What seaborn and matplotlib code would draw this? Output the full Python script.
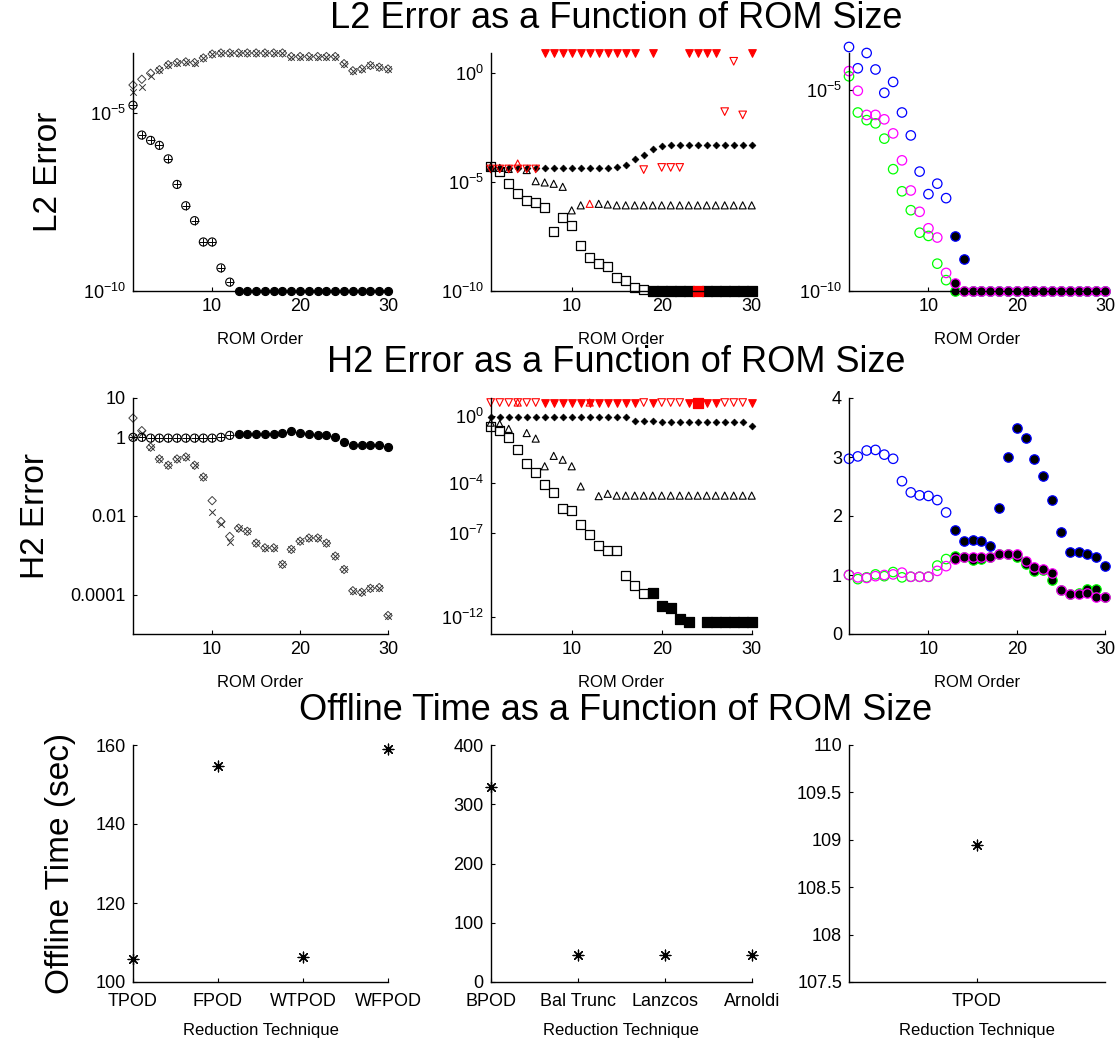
import numpy as np
import matplotlib.pyplot as plt
import seaborn as sns

sns.set_style("ticks")
plt.rcParams["font.family"] = ["Liberation Sans", "DejaVu Sans"]
plt.rcParams["mathtext.fontset"] = "custom"
plt.rcParams["mathtext.rm"] = "Liberation Sans"
plt.rcParams["mathtext.default"] = "regular"
plt.rcParams["text.color"] = "k"
plt.rcParams["axes.labelcolor"] = "k"

# ROM orders 1..30
orders = np.arange(1, 31)

# L2 error, POD column (log10 of error)
l2_tpod_log = [-4.77, -5.61, -5.76, -5.90, -6.28, -7.00, -7.60, -8.02, -8.62, -8.62,
               -9.35, -9.75] + [-10.0] * 18
l2_fpod_log = l2_tpod_log
l2_wfpod_log = [-4.20, -4.04, -3.87, -3.77, -3.63, -3.57, -3.55, -3.57, -3.44, -3.33,
                -3.30, -3.30, -3.30, -3.30, -3.30, -3.30, -3.30, -3.30,
                -3.40, -3.40, -3.40, -3.40, -3.40, -3.40,
                -3.60, -3.80, -3.75, -3.65, -3.70, -3.75]
l2_wtpod_log = [-4.40, -4.25, -3.95] + l2_wfpod_log[3:]
pod_unstable_from = 13

# L2 error, balanced / Krylov column
l2_bpod_log = [-4.30, -4.53, -5.07, -5.53, -5.84, -5.92, -6.15, -7.25, -6.64, -6.99,
               -7.91, -8.45, -8.76, -8.88, -9.37, -9.53, -9.83, -9.95] + [-10.0] * 12
l2_baltrunc_log = [-4.35] * 14 + [-4.30, -4.22, -3.96, -3.76, -3.50, -3.35] + [-3.30] * 10
l2_lanczos_log = [-4.30, -4.35, -4.40, -4.15, -4.45, -4.96, -5.02, -5.08, -5.22, -6.30,
                  -6.07, -6.00, -6.00, -6.03] + [-6.07] * 16
l2_arnoldi_log = ([-4.40] * 6 + [0.90] * 11 + [-4.43, 0.90] + [-4.33] * 3 + [0.90] * 4
                  + [-1.77, 0.54, -1.92, 0.90])
arnoldi_unstable = [7, 8, 9, 10, 11, 12, 13, 14, 15, 16, 17, 19, 23, 24, 25, 26, 30]
bpod_unstable_from = 19
bpod_flagged = [24]
lanczos_flagged = [4, 12]

# L2 error, third column (three cases)
l2_case_a_log = [-3.93, -4.46, -4.08, -4.49, -5.07, -4.80, -5.56, -6.13, -7.03, -7.59,
                 -7.33, -7.69, -8.62, -9.21] + [-10.0] * 16
l2_case_b_log = [-4.66, -5.56, -5.75, -5.83, -6.21, -6.97, -7.52, -7.99, -8.55, -8.63,
                 -9.32, -9.73] + [-10.0] * 18
l2_case_c_log = [-4.53, -5.02, -5.62, -5.62, -5.73, -6.08, -6.75, -7.50, -8.03, -8.44,
                 -8.67, -9.55, -9.79] + [-10.0] * 17

# H2 error, POD column (log10)
h2_tpod_log = [0.0, 0.0] + [-0.02] * 8 + [0.0, 0.05] + [0.08] * 5 + [0.12, 0.15, 0.12, 0.08,
               0.06, 0.06, 0.02, -0.12, -0.20, -0.20, -0.20, -0.20, -0.24]
h2_fpod_log = h2_tpod_log
h2_wfpod_log = [0.49, 0.17, -0.25, -0.55, -0.71, -0.55, -0.50, -0.71, -1.01, -1.61,
                -2.14, -2.52, -2.31, -2.39, -2.69, -2.81, -2.81, -3.23, -2.85, -2.64,
                -2.56, -2.56, -2.69, -3.02, -3.36, -3.90, -3.94, -3.84, -3.82, -4.53]
h2_wtpod_log = [0.0, 0.10] + h2_wfpod_log[2:9] + [-1.89, -2.20, -2.65] + h2_wfpod_log[12:]

# H2 error, balanced / Krylov column
h2_bpod_log = [-0.65, -0.87, -1.26, -2.03, -2.81, -3.39, -4.07, -4.55, -5.52, -5.62,
               -6.49, -7.07, -7.75, -8.04, -8.04, -9.49, -10.08, -10.56, -10.56, -11.34,
               -11.43, -12.11, -12.27, 0.80] + [-12.27] * 6
h2_baltrunc_log = [-0.09] * 16 + [-0.29] * 3 + [-0.39] * 10 + [-0.62]
h2_lanczos_log = [-0.40, -0.48, -0.77, 0.80, -1.02, -1.35, -3.00, -2.38, -2.61, -3.00,
                  -4.20, 0.80, -4.78, -4.64] + [-4.75] * 16
h2_arnoldi_log = [0.80] * 30

# H2 error, third column (linear)
h2_case_a = [2.97, 3.01, 3.11, 3.12, 3.04, 2.97, 2.59, 2.40, 2.35, 2.34, 2.27, 2.06, 1.77,
             1.58, 1.60, 1.58, 1.50, 2.14, 3.00, 3.49, 3.32, 2.97, 2.67, 2.27, 1.73, 1.39,
             1.39, 1.35, 1.30, 1.15]
h2_case_b = [1.00, 0.93, 0.96, 1.01, 0.98, 1.05, 0.96, 0.97, 0.97, 0.97, 1.16, 1.27, 1.32,
             1.30, 1.26, 1.27, 1.31, 1.35, 1.35, 1.30, 1.18, 1.07, 1.09, 0.92, 0.74, 0.68,
             0.70, 0.76, 0.76, 0.63]
h2_case_c = [1.00, 0.96, 0.95, 0.98, 1.00, 1.01, 1.04, 0.97, 0.97, 0.97, 1.07, 1.15, 1.27,
             1.30, 1.30, 1.30, 1.30, 1.35, 1.35, 1.35, 1.24, 1.13, 1.11, 1.04, 0.75, 0.68,
             0.68, 0.69, 0.62, 0.62]

# offline times
pod_methods = ["TPOD", "FPOD", "WTPOD", "WFPOD"]
pod_times = [105.9, 154.6, 106.4, 158.9]
kry_methods = ["BPOD", "Bal Trunc", "Lanzcos", "Arnoldi"]
kry_times = [329.6, 45.0, 45.0, 45.0]
single_methods = ["TPOD"]
single_times = [108.95]


def dots(ax, x, y, **kw):
    x = np.asarray(x)
    y = np.asarray(y)
    if len(x) == 0:
        return
    sns.scatterplot(x=x, y=y, ax=ax, legend=False, clip_on=False, **kw)


def open_filled(ax, y, filled, marker, s, edge, fill="k", lw=0.9):
    y = np.asarray(y)
    dots(ax, orders[~filled], y[~filled], marker=marker, s=s,
         facecolors="none", edgecolor=edge, linewidth=lw)
    dots(ax, orders[filled], y[filled], marker=marker, s=s,
         facecolor=fill, edgecolor=edge, linewidth=lw)


def finish(ax, xlabel, ylabel=None, xpad=5):
    sns.despine(ax=ax)
    for sp in ("left", "bottom"):
        ax.spines[sp].set_linewidth(1.0)
        ax.spines[sp].set_color("k")
    ax.tick_params(direction="in", length=3, width=0.8, labelsize=13, pad=5,
                   colors="k", labelcolor="k")
    ax.tick_params(axis="x", pad=xpad)
    ax.set_xlabel(xlabel, fontsize=12, labelpad=12)
    if ylabel:
        ax.set_ylabel(ylabel, fontsize=24, labelpad=14)
    else:
        ax.set_ylabel("")


def order_axis(ax):
    ax.set_xlim(1, 30)
    ax.set_xticks([10, 20, 30])
    ax.set_xticklabels(["10", "20", "30"])


def log_axis(ax, lo, hi, exps, labels=None):
    ax.set_yscale("log")
    ax.set_ylim(lo, hi)
    ticks = [10.0 ** e for e in exps]
    ax.set_yticks(ticks)
    if labels is None:
        labels = [r"$10^{%d}$" % e for e in exps]
    ax.set_yticklabels(labels)
    ax.yaxis.set_minor_locator(plt.NullLocator())


W, H = 1118, 1046
fig = plt.figure(figsize=(W / 100, H / 100), dpi=100)
lefts = [133, 490.7, 849]
widths = [255, 261, 256]
tops = [53, 398, 745]
heights = [238, 236, 237]
axs = [[fig.add_axes([lefts[c] / W, 1 - (tops[r] + heights[r]) / H, widths[c] / W, heights[r] / H])
        for c in range(3)] for r in range(3)]

pod_filled = orders >= pod_unstable_from
bpod_filled = orders >= bpod_unstable_from
arn_filled = np.isin(orders, arnoldi_unstable)
bpod_red = np.isin(orders, bpod_flagged)
lan_red = np.isin(orders, lanczos_flagged)


def pod_panel(ax, tpod, fpod, wtpod, wfpod):
    e = lambda v: 10.0 ** np.asarray(v)
    dots(ax, orders, e(wfpod), marker="D", s=18, facecolors="none", edgecolor="0.25", linewidth=0.7)
    dots(ax, orders, e(wtpod), marker="x", s=22, color="0.2", linewidth=0.7)
    open_filled(ax, e(tpod), pod_filled, "o", 34, "k", lw=0.8)
    dots(ax, orders, e(fpod), marker="+", s=34, color="k", linewidth=0.7)


def kry_panel(ax, bpod, baltrunc, lanczos, arnoldi):
    e = lambda v: 10.0 ** np.asarray(v)
    b = e(bpod)
    l = e(lanczos)
    a = e(arnoldi)
    m = ~bpod_red
    dots(ax, orders[m & ~bpod_filled], b[m & ~bpod_filled], marker="s", s=42,
         facecolors="none", edgecolor="k", linewidth=0.9)
    dots(ax, orders[m & bpod_filled], b[m & bpod_filled], marker="s", s=42,
         facecolor="k", edgecolor="k", linewidth=0.9)
    dots(ax, orders[bpod_red], b[bpod_red], marker="s", s=42,
         facecolor="#ff0000", edgecolor="#ff0000", linewidth=0.9)
    dots(ax, orders[~lan_red], l[~lan_red], marker="^", s=26,
         facecolors="none", edgecolor="k", linewidth=0.8)
    dots(ax, orders[lan_red], l[lan_red], marker="^", s=26,
         facecolors="none", edgecolor="#ff0000", linewidth=0.8)
    dots(ax, orders, e(baltrunc), marker="D", s=12, facecolor="k", edgecolor="k", linewidth=0.5)
    open_filled(ax, a, arn_filled, "v", 30, "#ff0000", fill="#ff0000", lw=0.8)


def case_panel(ax, a, b, c):
    open_filled(ax, a, pod_filled, "o", 46, "#0000ff")
    open_filled(ax, b, pod_filled, "o", 46, "#00ff00")
    open_filled(ax, c, pod_filled, "o", 46, "#ff00ff")


# row 1: L2 error
pod_panel(axs[0][0], l2_tpod_log, l2_fpod_log, l2_wtpod_log, l2_wfpod_log)
kry_panel(axs[0][1], l2_bpod_log, l2_baltrunc_log, l2_lanczos_log, l2_arnoldi_log)
case_panel(axs[0][2], 10.0 ** np.array(l2_case_a_log), 10.0 ** np.array(l2_case_b_log),
           10.0 ** np.array(l2_case_c_log))
log_axis(axs[0][0], 1e-10, 10 ** -3.30, [-5, -10])
log_axis(axs[0][1], 1e-10, 10 ** 0.92, [0, -5, -10])
log_axis(axs[0][2], 1e-10, 10 ** -4.08, [-5, -10])

# row 2: H2 error
pod_panel(axs[1][0], h2_tpod_log, h2_fpod_log, h2_wtpod_log, h2_wfpod_log)
kry_panel(axs[1][1], h2_bpod_log, h2_baltrunc_log, h2_lanczos_log, h2_arnoldi_log)
case_panel(axs[1][2], h2_case_a, h2_case_b, h2_case_c)
log_axis(axs[1][0], 1e-5, 10, [1, 0, -2, -4], ["10", "1", "0.01", "0.0001"])
log_axis(axs[1][1], 1e-13, 10 ** 1.07, [0, -4, -7, -12])
axs[1][2].set_ylim(0, 4)
axs[1][2].set_yticks([0, 1, 2, 3, 4])

for r in range(2):
    for c in range(3):
        order_axis(axs[r][c])
        finish(axs[r][c], "ROM Order", ["L2 Error", "H2 Error"][r] if c == 0 else None)

# row 3: offline time
star = (8, 2, 0)
for ax, names, times in [(axs[2][0], pod_methods, pod_times),
                         (axs[2][1], kry_methods, kry_times),
                         (axs[2][2], single_methods, single_times)]:
    sns.scatterplot(x=names, y=times, ax=ax, marker=star, s=60, color="k",
                    linewidth=0.9, legend=False, clip_on=False)
axs[2][0].set_xlim(0, 3)
axs[2][0].set_ylim(100, 160)
axs[2][0].set_yticks([100, 120, 140, 160])
axs[2][1].set_xlim(0, 3)
axs[2][1].set_ylim(0, 400)
axs[2][1].set_yticks([0, 100, 200, 300, 400])
axs[2][2].set_xlim(-1, 1)
axs[2][2].set_ylim(107.5, 110)
axs[2][2].set_yticks([107.5, 108, 108.5, 109, 109.5, 110])
axs[2][2].set_yticklabels(["107.5", "108", "108.5", "109", "109.5", "110"])
for c in range(3):
    finish(axs[2][c], "Reduction Technique", "Offline Time (sec)" if c == 0 else None, xpad=8)
    axs[2][c].xaxis.labelpad = 9

# section titles
fig.text(616 / W, 1 - 19 / H, "L2 Error as a Function of ROM Size", fontsize=26,
         ha="center", va="center")
fig.text(616 / W, 1 - 363 / H, "H2 Error as a Function of ROM Size", fontsize=26,
         ha="center", va="center")
fig.text(616 / W, 1 - 711 / H, "Offline Time as a Function of ROM Size", fontsize=26,
         ha="center", va="center")

fig.savefig("out.png", dpi=100, facecolor="white")
